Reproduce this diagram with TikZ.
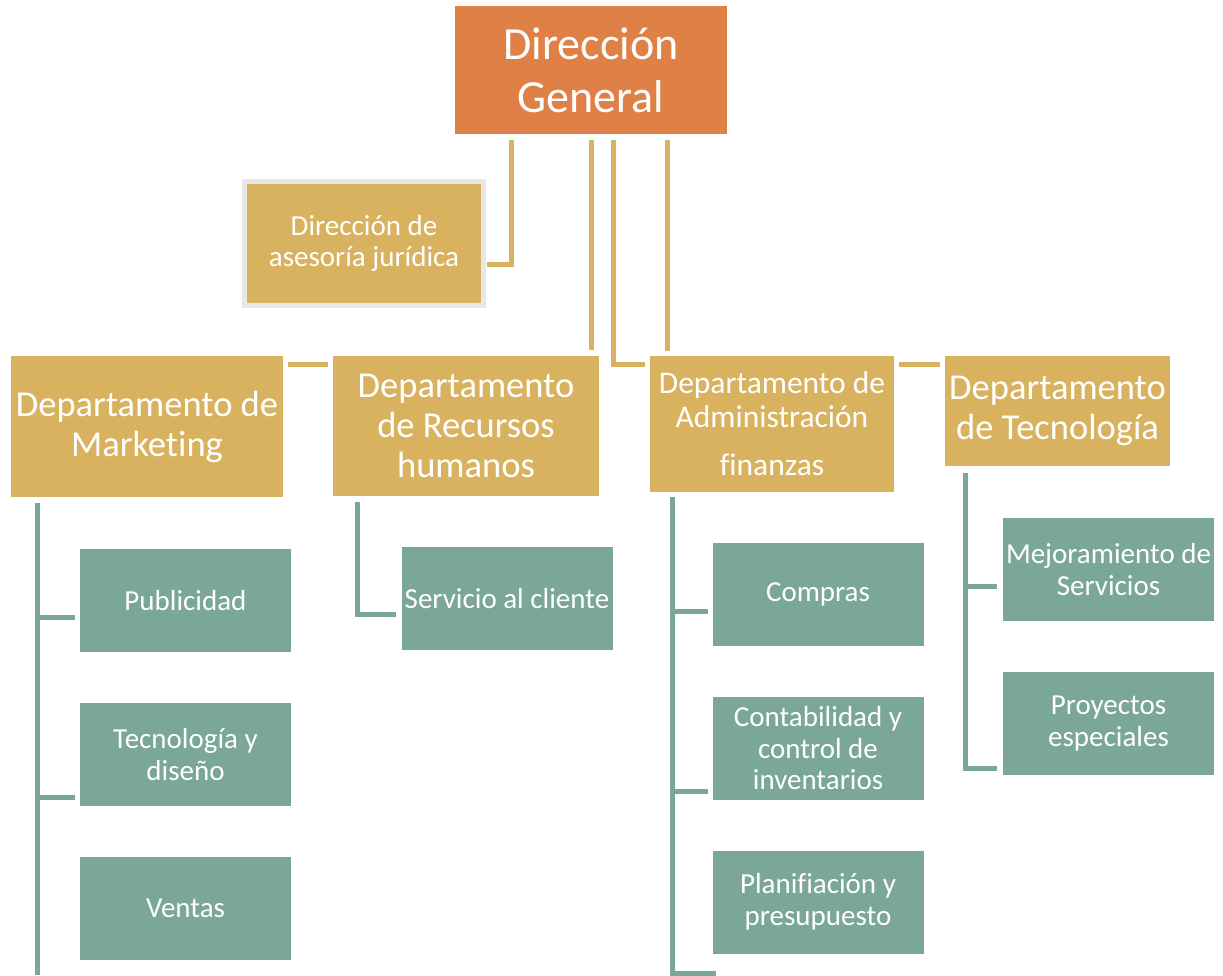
\documentclass[tikz,border=0pt]{standalone}
\usepackage{fontspec}
\setmainfont{Carlito}[Ligatures=NoCommon]
\usepackage{xcolor}
\usetikzlibrary{calc}

\definecolor{dgorange}{HTML}{DF8047}
\definecolor{deptgold}{HTML}{D9B25F}
\definecolor{unitgreen}{HTML}{7BA69A}
\definecolor{framegray}{HTML}{E7E7E7}

\begin{document}
\begin{tikzpicture}[
    x                  = 1pt,
    y                  = -1pt,
    every node/.style  = {inner sep=0pt, outer sep=0pt, align=center, text=white},
    direccion/.style   = {fill=dgorange, minimum width=272pt, minimum height=128pt,
                          font=\fontsize{46}{53}\selectfont},
    depto/.style       = {fill=deptgold, font=\fontsize{36.5}{40}\selectfont},
    unidad/.style      = {fill=unitgreen, minimum width=211pt, minimum height=103pt,
                          font=\fontsize{29}{31.5}\selectfont},
    enlace/.style      = {draw=deptgold, line width=5pt},
    rama/.style        = {draw=unitgreen, line width=5pt}
  ]
\useasboundingbox (0,0) rectangle (1223,975);

\node[direccion] (dg) at (591,70) {Dirección\\General};
\node[depto, draw=framegray, line width=5pt, minimum width=239pt, minimum height=124pt,
      font=\fontsize{29}{31}\selectfont] (ase) at (364,243.5) {Dirección de\\asesoría jurídica};

\node[depto, minimum width=272pt, minimum height=141pt] (mkt) at (147,426.5) {Departamento de\\Marketing};
\node[depto, minimum width=266pt, minimum height=140pt] (rrhh) at (466,426) {Departamento\\de Recursos\\humanos};
\node[depto, minimum width=244pt, minimum height=136pt,
      font=\fontsize{31.5}{34}\selectfont] (adm) at (772,424) {Departamento de\\Administración\\[14pt]finanzas};
\node[depto, minimum width=225pt, minimum height=110pt] (tec) at (1057.5,411) {Departamento\\de Tecnología};

\node[unidad] (pub)  at (185.5,600.5) {Publicidad};
\node[unidad] (tyd)  at (185.5,754.5) {Tecnología y\\diseño};
\node[unidad] (ven)  at (185.5,908.5) {Ventas};
\node[unidad] (serv) at (507,598.5) {Servicio al cliente};
\node[unidad] (comp) at (818,594.5) {Compras};
\node[unidad] (cont) at (818,748.5) {Contabilidad y\\control de\\inventarios};
\node[unidad] (plan) at (818,902) {Planifiación y\\presupuesto};
\node[unidad] (mej)  at (1108.5,569.5) {Mejoramiento de\\Servicios};
\node[unidad] (proy) at (1108.5,723.5) {Proyectos\\especiales};

\coordinate (finmkt) at (37,975);
\coordinate (finadm) at (716,973);

% lineas de la direccion
\draw[enlace] ($(dg.south)+(-80,6)$) |- ($(ase.east)+(3,21)$);
\draw[enlace] ($(dg.south)+(0,6)$) -- ($(rrhh.north east)+(-8,-6)$);
\draw[enlace] ($(dg.south)+(22,6)$) |- ($(adm.north west)+(-5,8)$);
\draw[enlace] ($(dg.south)+(76,6)$) -- ($(adm.north west)+(17,-5)$);
\draw[enlace] ($(mkt.north east)+(5,8)$) -- ($(rrhh.north west)+(-5,8)$);
\draw[enlace] ($(adm.north east)+(5,8)$) -- ($(tec.north west)+(-5,8)$);

% lineas de los departamentos
\draw[rama] ($(mkt.south west)+(26,6)$) -- (finmkt);
\foreach \n/\dy in {pub/17, tyd/42.5}
  \draw[rama] ($(\n.west)+(-5,\dy)$) -- +(-40.5,0);
\draw[rama] ($(rrhh.south west)+(24,6)$) |- ($(serv.west)+(-6,16)$);
\draw[rama] ($(adm.south west)+(22,5)$) |- (finadm);
\foreach \n/\dy in {comp/16.5, cont/42.5}
  \draw[rama] ($(\n.west)+(-5,\dy)$) -- +(-37.5,0);
\draw[rama] ($(tec.south west)+(20,7)$) |- ($(proy.west)+(-6,44.5)$);
\draw[rama] ($(mej.west)+(-6,16.5)$) -- +(-34.5,0);

\end{tikzpicture}
\end{document}
